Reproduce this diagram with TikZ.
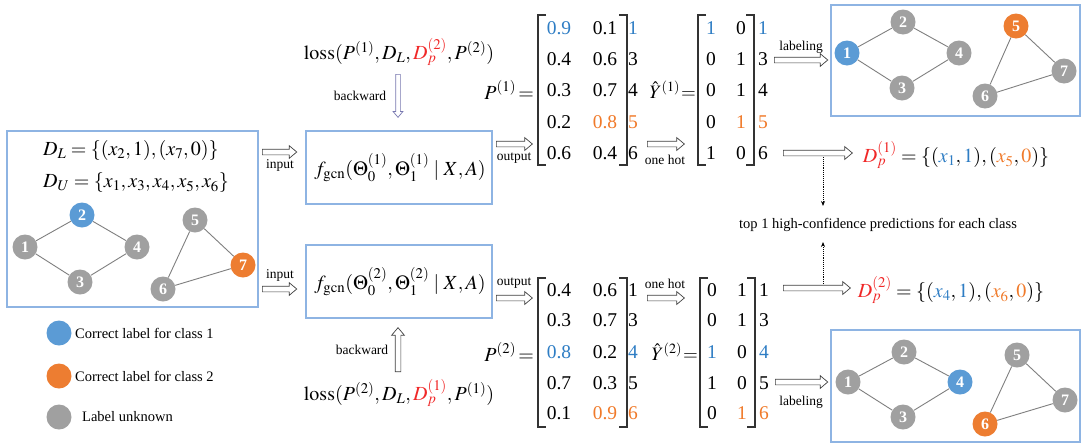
\documentclass[tikz,border=0pt]{standalone}
\usepackage{mathptmx}
\usepackage[no-math]{fontspec}
\setmainfont{Liberation Serif}
\usetikzlibrary{shapes.arrows,arrows.meta,calc}
\definecolor{nblue}{HTML}{5B9BD5}
\definecolor{norange}{HTML}{ED7D31}
\definecolor{ngray}{HTML}{A0A0A0}
\definecolor{tblue}{HTML}{2E7DC4}
\definecolor{torange}{HTML}{F07A2A}
\definecolor{tred}{HTML}{F02828}
\definecolor{boxc}{HTML}{8EB4E3}
\definecolor{edgec}{HTML}{7F7F7F}
\definecolor{arrc}{HTML}{404040}
\definecolor{bwc}{HTML}{7878B0}
\newcommand\fatarrow[3][]{\path let \p1=#2, \p2=#3, \n1={veclen(\x2-\x1,\y2-\y1)}, \n2={atan2(\y2-\y1,\x2-\x1)} in node[fatarrowshape,#1,minimum height=\n1,rotate=\n2,anchor=tail] at (\p1) {};}
\newcommand\bl[1]{\textcolor{tblue}{#1}}
\newcommand\og[1]{\textcolor{torange}{#1}}
\begin{document}
\begin{tikzpicture}[x=1pt,y=-1pt,
  boxline/.style={draw=boxc, line width=1.2pt, inner sep=0pt},
  gn/.style={circle, minimum size=25pt, inner sep=0pt, text=white, font=\fontsize{16}{16}\selectfont\bfseries},
  ge/.style={draw=edgec, line width=0.9pt},
  fatarrowshape/.style={single arrow, draw=arrc, fill=white, line width=0.7pt, inner xsep=0pt, inner ysep=2.5pt, single arrow head extend=3.5pt, single arrow tip angle=80},
  lab/.style={font=\fontsize{13.5}{14}\selectfont, inner sep=1pt},
  mt/.style={font=\fontsize{20}{24}\selectfont, inner sep=0pt},
  ent/.style={font=\fontsize{19.5}{20}\selectfont, inner sep=0pt},
  brk/.style={draw=black!80, line width=1.1pt},
  leg/.style={font=\fontsize{14.5}{16}\selectfont, inner sep=0pt, anchor=west},
  dotarr/.style={densely dotted, line width=0.9pt, -{Stealth[length=5pt,width=4pt]}}
]
\useasboundingbox (0,0) rectangle (1081,445);

% ---------- left box ----------
\node[boxline, minimum width=251pt, minimum height=176pt] (lbox) at (132.5,219) {};
\node[mt, anchor=west] (dl) at (43,150) {$D_L=\{(x_2,1),(x_7,0)\}$};
\node[mt, anchor=west] (du) at (43,183) {$D_U=\{x_1,x_3,x_4,x_5,x_6\}$};
\node[gn, fill=ngray] (a1) at (25,247) {1};
\node[gn, fill=nblue] (a2) at (82,215) {2};
\node[gn, fill=ngray] (a3) at (80,282) {3};
\node[gn, fill=ngray] (a4) at (137,247) {4};
\node[gn, fill=ngray] (a5) at (195,220) {5};
\node[gn, fill=ngray] (a6) at (163,289) {6};
\node[gn, fill=norange] (a7) at (243,265) {7};
\draw[ge] (a1)--(a2) (a2)--(a4) (a1)--(a3) (a3)--(a4) (a5)--(a7) (a5)--(a6) (a6)--(a7);

% ---------- legend ----------
\node[gn, fill=nblue] (l1) at (59,333) {};
\node[gn, fill=norange] (l2) at (59,376) {};
\node[gn, fill=ngray] (l3) at (59,417) {};
\node[leg] (lt1) at (75,333) {Correct label for class 1};
\node[leg] (lt2) at (75,376) {Correct label for class 2};
\node[leg] (lt3) at (82,417) {Label unknown};

% ---------- gcn boxes ----------
\node[boxline, minimum width=186pt, minimum height=73pt] (g1) at (399,167.5) {};
\node[mt] (g1t) at (400,167.5) {$f_{\mathrm{gcn}}(\Theta_0^{(1)},\Theta_1^{(1)}\mid X,A)$};
\node[boxline, minimum width=186pt, minimum height=73pt] (g2) at (399,281.5) {};
\node[mt] (g2t) at (400,281.5) {$f_{\mathrm{gcn}}(\Theta_0^{(2)},\Theta_1^{(2)}\mid X,A)$};

% input arrows
\coordinate (i1s) at (262,152); \coordinate (i1e) at (g1.west |- i1s);
\coordinate (i2s) at (262,289); \coordinate (i2e) at (g2.west |- i2s);
\fatarrow{(i1s)}{($(i1e)+(-9,0)$)}
\fatarrow{(i2s)}{($(i2e)+(-9,0)$)}
\node[lab] (in1) at (280,165) {input};
\node[lab] (in2) at (280,275) {input};

% losses and backward
\node[mt] (loss1) at (399,52) {$\mathrm{loss}(P^{(1)},D_L,\textcolor{tred}{D_p^{(2)}},P^{(2)})$};
\node[mt] (loss2) at (399,393) {$\mathrm{loss}(P^{(2)},D_L,\textcolor{tred}{D_p^{(1)}},P^{(1)})$};
\coordinate (b1s) at (398,74); \coordinate (b1e) at (398,117);
\coordinate (b2s) at (398,372); \coordinate (b2e) at (398,328);
\fatarrow[draw=bwc, inner ysep=2pt, single arrow head extend=2.5pt]{(b1s)}{(b1e)}
\fatarrow{(b2s)}{(b2e)}
\node[lab] (bw1) at (360,96) {backward};
\node[lab] (bw2) at (362,350) {backward};

% output arrows
\coordinate (o1s) at (496,144); \coordinate (o1e) at (532,144);
\coordinate (o2s) at (496,298); \coordinate (o2e) at (532,298);
\fatarrow{(o1s)}{(o1e)}
\fatarrow{(o2s)}{(o2e)}
\node[lab] (ol1) at (514,158) {output};
\node[lab] (ol2) at (514,283) {output};

% one hot arrows
\coordinate (h1s) at (647,144); \coordinate (h1e) at (684,144);
\coordinate (h2s) at (647,298); \coordinate (h2e) at (684,298);
\fatarrow{(h1s)}{(h1e)}
\fatarrow{(h2s)}{(h2e)}
\node[lab] (hl1) at (665,160) {one hot};
\node[lab] (hl2) at (665,284) {one hot};

% ---------- P1 matrix ----------
\node[mt, anchor=east] (p1) at (534,90) {$P^{(1)}\mkern-2mu=$};
\draw[brk] (546,15) -- (538,15) -- (538,165) -- (546,165);
\draw[brk] (619,15) -- (627,15) -- (627,165) -- (619,165);
\foreach \y/\a/\b/\l [count=\i] in {28/{\bl{0.9}}/0.1/{\bl{1}}, 59/0.4/0.6/3, 90/0.3/0.7/4, 122/0.2/{\og{0.8}}/{\og{5}}, 153/0.6/0.4/6}{
  \node[ent] (pa\i) at (559,\y) {\a};
  \node[ent] (pb\i) at (605,\y) {\b};
  \node[ent] (pl\i) at (633,\y) {\l};
}
% Y1 matrix
\node[mt, anchor=east, font=\fontsize{19}{22}\selectfont] (y1) at (696,90) {$\hat{Y}^{(1)}\mkern-3mu=$};
\draw[brk] (706,15) -- (698,15) -- (698,165) -- (706,165);
\draw[brk] (746,15) -- (754,15) -- (754,165) -- (746,165);
\foreach \y/\a/\b/\l [count=\i] in {28/{\bl{1}}/0/{\bl{1}}, 59/0/1/3, 90/0/1/4, 122/0/{\og{1}}/{\og{5}}, 153/1/0/6}{
  \node[ent] (ya\i) at (711,\y) {\a};
  \node[ent] (yb\i) at (741,\y) {\b};
  \node[ent] (yl\i) at (763,\y) {\l};
}
% ---------- P2 matrix ----------
\node[mt, anchor=east] (p2) at (534,352) {$P^{(2)}\mkern-2mu=$};
\draw[brk] (546,278) -- (538,278) -- (538,427) -- (546,427);
\draw[brk] (619,278) -- (627,278) -- (627,427) -- (619,427);
\foreach \y/\a/\b/\l [count=\i] in {290/0.4/0.6/1, 320/0.3/0.7/3, 352/{\bl{0.8}}/0.2/{\bl{4}}, 383/0.7/0.3/5, 413/0.1/{\og{0.9}}/{\og{6}}}{
  \node[ent] (qa\i) at (559,\y) {\a};
  \node[ent] (qb\i) at (605,\y) {\b};
  \node[ent] (ql\i) at (633,\y) {\l};
}
% Y2 matrix
\node[mt, anchor=east, font=\fontsize{19}{22}\selectfont] (y2) at (698,352) {$\hat{Y}^{(2)}\mkern-3mu=$};
\draw[brk] (708,278) -- (700,278) -- (700,427) -- (708,427);
\draw[brk] (747,278) -- (755,278) -- (755,427) -- (747,427);
\foreach \y/\a/\b/\l [count=\i] in {290/0/1/1, 320/0/1/3, 352/{\bl{1}}/0/{\bl{4}}, 383/1/0/5, 413/0/{\og{1}}/{\og{6}}}{
  \node[ent] (za\i) at (712,\y) {\a};
  \node[ent] (zb\i) at (742,\y) {\b};
  \node[ent] (zl\i) at (764,\y) {\l};
}

% ---------- right boxes ----------
\node[boxline, minimum width=249pt, minimum height=111pt] (r1) at (955.5,60.5) {};
\node[gn, fill=nblue] (b1) at (847,53) {1};
\node[gn, fill=ngray] (b2) at (903,22) {2};
\node[gn, fill=ngray] (b3) at (902,88) {3};
\node[gn, fill=ngray] (b4) at (959,53) {4};
\node[gn, fill=norange] (b5) at (1016,26) {5};
\node[gn, fill=ngray] (b6) at (985,96) {6};
\node[gn, fill=ngray] (b7) at (1064,71) {7};
\draw[ge] (b1)--(b2) (b2)--(b4) (b1)--(b3) (b3)--(b4) (b5)--(b7) (b5)--(b6) (b6)--(b7);

\node[boxline, minimum width=249pt, minimum height=112pt] (r2) at (955.5,386) {};
\node[gn, fill=ngray] (c1) at (848,382) {1};
\node[gn, fill=ngray] (c2) at (904,352) {2};
\node[gn, fill=ngray] (c3) at (903,417) {3};
\node[gn, fill=nblue] (c4) at (960,382) {4};
\node[gn, fill=ngray] (c5) at (1017,355) {5};
\node[gn, fill=norange] (c6) at (985,424) {6};
\node[gn, fill=ngray] (c7) at (1065,400) {7};
\draw[ge] (c1)--(c2) (c2)--(c4) (c1)--(c3) (c3)--(c4) (c5)--(c7) (c5)--(c6) (c6)--(c7);

% labeling arrows
\coordinate (lb1s) at (774,60); \coordinate (lb1e) at (r1.west |- lb1s);
\coordinate (lb2s) at (775,382); \coordinate (lb2e) at (r2.west |- lb2s);
\fatarrow{(lb1s)}{($(lb1e)+(-3,0)$)}
\fatarrow{(lb2s)}{($(lb2e)+(-3,0)$)}
\node[lab] (lbl1) at (801,47) {labeling};
\node[lab] (lbl2) at (801,402) {labeling};

% Dp arrows and texts
\node[mt] (dp1) at (956,155) {$\textcolor{tred}{D_p^{(1)}}=\{(\bl{x_1},\bl{1}),(\og{x_5},\og{0})\}$};
\node[mt] (dp2) at (951,290) {$\textcolor{tred}{D_p^{(2)}}=\{(\bl{x_4},\bl{1}),(\og{x_6},\og{0})\}$};
\coordinate (e1s) at (783,153); \coordinate (e1e) at (852,153);
\coordinate (e2s) at (783,288); \coordinate (e2e) at (850,288);
\fatarrow{(e1s)}{(e1e)}
\fatarrow{(e2s)}{(e2e)}

% top-1 note and dotted arrows
\node[font=\fontsize{14.5}{16}\selectfont, inner sep=0pt] (note) at (878,225) {top 1 high-confidence predictions for each class};
\coordinate (d1s) at (823,157); \coordinate (d1e) at (823,206);
\coordinate (d2s) at (823,284); \coordinate (d2e) at (823,242);
\draw[dotarr] (d1s) -- (d1e);
\draw[dotarr] (d2s) -- (d2e);
\end{tikzpicture}
\end{document}
